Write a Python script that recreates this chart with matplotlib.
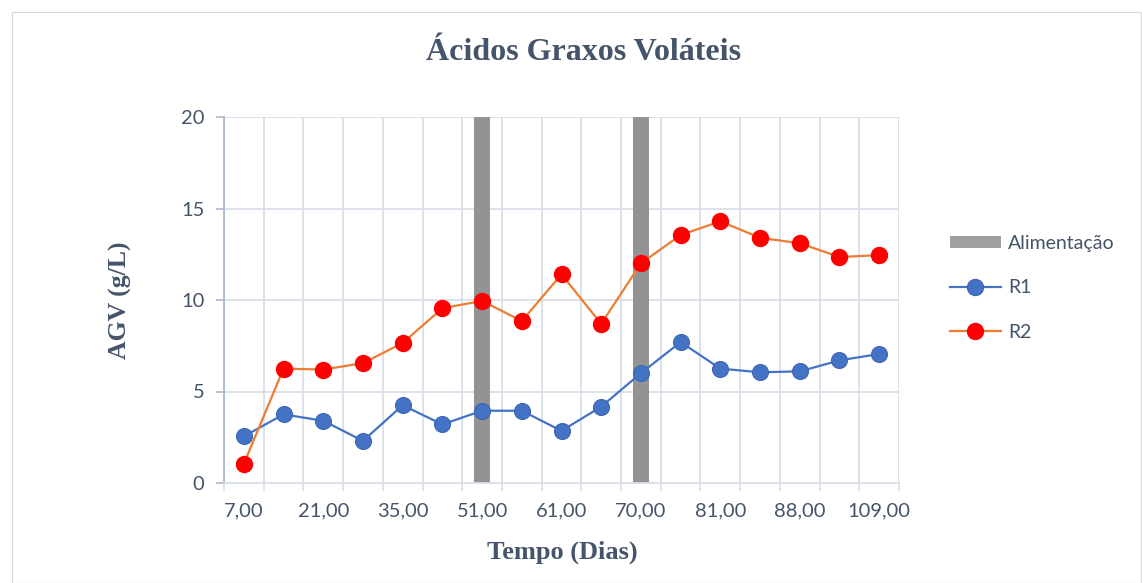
import matplotlib
matplotlib.use("Agg")
import matplotlib.pyplot as plt
from matplotlib.patches import Rectangle
from matplotlib.lines import Line2D
import numpy as np

days = ["7,00", "14,00", "21,00", "28,00", "35,00", "42,00", "51,00", "56,00", "61,00",
        "65,00", "70,00", "77,00", "81,00", "84,00", "88,00", "98,00", "109,00"]
r1 = [2.55, 3.75, 3.4, 2.3, 4.25, 3.2, 3.95, 3.95, 2.85, 4.17, 6.0, 7.7, 6.25, 6.05, 6.1, 6.7, 7.05]
r2 = [1.05, 6.25, 6.2, 6.55, 7.65, 9.55, 9.95, 8.85, 11.4, 8.7, 12.0, 13.55, 14.3, 13.4, 13.1, 12.35, 12.45]
alimentacao = [0, 0, 0, 0, 0, 0, 20, 0, 0, 0, 20, 0, 0, 0, 0, 0, 0]

W, H = 1142, 583
fig = plt.figure(figsize=(W / 100, H / 100), dpi=100)
fig.patch.set_facecolor("white")
fig.add_artist(Rectangle((12 / W, 0), 1 - 13 / W, 1 - 12 / H, transform=fig.transFigure,
                         fill=False, edgecolor="#D9D9D9", linewidth=0.8))

ax = fig.add_axes([224 / W, 1 - 483 / H, (899 - 224) / W, (483 - 117) / H])
x = np.arange(len(days))
grid_c = "#D9DEE8"
axis_c = "#A9B6CC"
text_c = "#44546A"

ax.bar(x, alimentacao, width=0.42, color="#939393", zorder=2, label="Alimentação")
ax.plot(x, r1, color="#4472C4", linewidth=1.6, marker="o", markersize=11.5,
        markerfacecolor="#4472C4", markeredgecolor="#3D67B3", markeredgewidth=0.8, zorder=3, label="R1")
ax.plot(x, r2, color="#ED7D31", linewidth=1.6, marker="o", markersize=11.5,
        markerfacecolor="#FF0000", markeredgecolor="#FF0000", zorder=3, label="R2")

ax.set_xlim(-0.5, len(days) - 0.5)
ax.set_ylim(0, 20)
ax.set_yticks([0, 5, 10, 15, 20])
ax.set_xticks(np.arange(-0.5, len(days)), minor=False)
ax.set_xticklabels([])
ax.set_xticks(x[::2], minor=True)
ax.set_xticklabels([days[i] for i in x[::2]], minor=True)
ax.tick_params(axis="x", which="major", length=6, color=grid_c, width=1.2, direction="out")
ax.tick_params(axis="x", which="minor", length=0, pad=14, labelsize=14.5, labelcolor=text_c)
ax.tick_params(axis="y", length=6, color=axis_c, width=1.2, labelsize=14.5, labelcolor=text_c, pad=8)
for lab in ax.get_xticklabels(minor=True) + ax.get_yticklabels():
    lab.set_family("Lato")

ax.grid(True, which="major", axis="both", color=grid_c, linewidth=1.3, zorder=0)
ax.set_axisbelow(True)
for s in ["top", "right"]:
    ax.spines[s].set_visible(False)
ax.spines["bottom"].set_color(grid_c)
ax.spines["bottom"].set_linewidth(1.3)
ax.spines["left"].set_color(axis_c)
ax.spines["left"].set_linewidth(1.3)

fig.text(584 / W, 1 - 52 / H, "Ácidos Graxos Voláteis", ha="center", va="center",
         fontsize=23, fontweight="bold", family="Liberation Serif", color=text_c)
fig.text(562 / W, 1 - 552 / H, "Tempo (Dias)", ha="center", va="center",
         fontsize=19, fontweight="bold", family="Liberation Serif", color=text_c)
fig.text(120 / W, 1 - 300 / H, "AGV (g/L)", ha="center", va="center", rotation=90,
         fontsize=18.5, fontweight="bold", family="Liberation Serif", color=text_c)

handles = [Rectangle((0, 0), 1, 1, facecolor="#A0A0A0", edgecolor="none"),
           Line2D([], [], color="#4472C4", linewidth=1.6, marker="o", markersize=11.5,
                  markerfacecolor="#4472C4", markeredgecolor="#3D67B3"),
           Line2D([], [], color="#ED7D31", linewidth=1.6, marker="o", markersize=11.5,
                  markerfacecolor="#FF0000", markeredgecolor="#FF0000")]
leg = fig.legend(handles, ["Alimentação", "R1", "R2"], loc="upper left",
                 bbox_to_anchor=(950 / W, 1 - 235 / H), frameon=False,
                 prop={"family": "Lato", "size": 14}, handlelength=2.6, handleheight=0.55,
                 labelspacing=1.41, handletextpad=0.4, borderaxespad=0, borderpad=0)
for t in leg.get_texts():
    t.set_color(text_c)

fig.savefig("out.png", dpi=100, facecolor="white")
